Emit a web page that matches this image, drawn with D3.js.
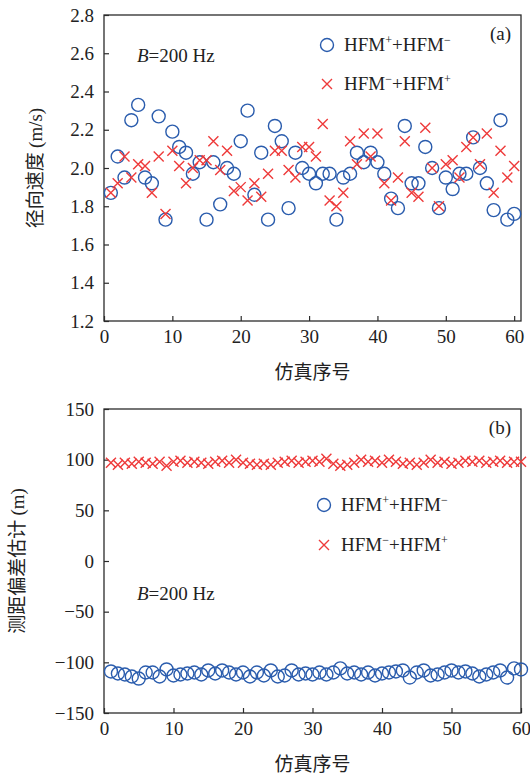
<!DOCTYPE html>
<html><head><meta charset="utf-8">
<script src="https://cdn.jsdelivr.net/npm/d3@7"></script>
<style>body{margin:0;background:#fff}</style>
</head><body><svg id="c" width="530" height="778"></svg>
<script>
const simIndex = [1,2,3,4,5,6,7,8,9,10,11,12,13,14,15,16,17,18,19,20,21,22,23,24,25,26,27,28,29,30,
  31,32,33,34,35,36,37,38,39,40,41,42,43,44,45,46,47,48,49,50,51,52,53,54,55,56,57,58,59,60];
// panel (a): radial velocity (m/s)
const velCircle = [1.87,2.06,1.95,2.25,2.33,1.95,1.92,2.27,1.73,2.19,2.11,2.08,1.97,2.03,1.73,2.03,1.81,2.00,1.97,2.14,
  2.30,1.86,2.08,1.73,2.22,2.14,1.79,2.08,2.00,1.97,1.92,1.97,1.97,1.73,1.95,1.97,2.08,2.03,2.08,2.03,
  1.97,1.84,1.79,2.22,1.92,1.92,2.11,2.00,1.79,1.95,1.89,1.97,1.97,2.16,2.00,1.92,1.78,2.25,1.73,1.76];
const velCross = [1.87,1.92,2.06,1.95,2.02,2.01,1.87,2.06,1.76,2.09,2.01,1.92,2.00,2.04,2.04,2.14,1.99,2.09,1.88,1.90,
  1.83,1.92,1.85,1.97,2.09,2.09,1.99,1.95,2.11,2.11,2.06,2.23,1.83,1.80,1.87,2.14,2.02,2.18,2.06,2.18,
  1.92,1.83,1.95,2.14,1.87,1.85,2.21,2.00,1.80,2.02,2.04,1.95,2.11,2.16,2.02,2.18,1.87,2.09,1.95,2.01];
// panel (b): ranging bias estimate (m)
const biasCircle = [-109,-111,-112,-114,-116,-110,-110,-114,-107,-113,-112,-111,-110,-112,-108,-111,-108,-110,-112,-110,
  -114,-110,-113,-108,-114,-113,-108,-112,-111,-112,-110,-112,-110,-106,-111,-110,-112,-110,-113,-111,
  -110,-109,-108,-115,-110,-108,-113,-112,-110,-108,-110,-109,-111,-114,-112,-110,-108,-115,-106,-107];
const biasCross = [97,95,97,96,98,97,96,98,94,98,99,97,98,97,96,98,99,97,100,97,
  96,95,96,95,97,98,99,97,98,99,98,101,96,94,95,97,100,98,99,97,
  100,98,96,97,95,97,100,97,98,96,97,99,98,99,97,98,99,97,98,98];
const xTicks = [0,10,20,30,40,50,60];
const velTicks = [1.2,1.4,1.6,1.8,2.0,2.2,2.4,2.6,2.8];
const biasTicks = [-150,-100,-50,0,50,100,150];

const BLUE = "#2a5cad", RED = "#ee3a3a", AX = "#2b2b2b";
const SERIF = "'Liberation Serif','Times New Roman',serif";
const CJK = "'Noto Sans CJK SC','Liberation Serif',serif";
const svg = d3.select("#c");

function panel(o){
  const g = svg.append("g");
  const x = d3.scaleLinear().domain(o.xDomain).range([o.left, o.right]);
  const y = d3.scaleLinear().domain(o.yDomain).range([o.bottom, o.top]);
  // frame
  g.append("rect").attr("x",o.left).attr("y",o.top).attr("width",o.right-o.left).attr("height",o.bottom-o.top)
    .attr("fill","none").attr("stroke",AX).attr("stroke-width",1.3);
  // y axis
  const ya = d3.axisLeft(y).tickValues(o.yTicks).tickSizeInner(-5).tickSizeOuter(0).tickPadding(10)
    .tickFormat(o.yFmt);
  const yg = g.append("g").attr("transform",`translate(${o.left},0)`).call(ya);
  yg.select(".domain").remove();
  yg.selectAll("line").attr("stroke",AX).attr("stroke-width",1.2);
  yg.selectAll("text").attr("font-family",SERIF).attr("font-size",19).attr("fill","#222");
  // x axis
  const xa = d3.axisBottom(x).tickValues(xTicks).tickSizeInner(-5).tickSizeOuter(0).tickPadding(9);
  const xg = g.append("g").attr("transform",`translate(0,${o.bottom})`).call(xa);
  xg.select(".domain").remove();
  xg.selectAll("line").attr("stroke",AX).attr("stroke-width",1.2);
  xg.selectAll("text").attr("font-family",SERIF).attr("font-size",19).attr("fill","#222");
  // data
  g.append("g").selectAll("circle").data(simIndex).join("circle")
    .attr("cx",(d)=>x(d)).attr("cy",(d,i)=>y(o.circ[i])).attr("r",6.5)
    .attr("fill","none").attr("stroke",BLUE).attr("stroke-width",1.4);
  const s = 5;
  g.append("g").selectAll("path").data(simIndex).join("path")
    .attr("d",(d,i)=>{const cx=x(d), cy=y(o.cross[i]);
      return `M${cx-s},${cy-s}L${cx+s},${cy+s}M${cx-s},${cy+s}L${cx+s},${cy-s}`;})
    .attr("fill","none").attr("stroke",RED).attr("stroke-width",1.4);
  // labels
  svg.append("text").attr("x",(o.left+o.right)/2).attr("y",o.bottom+58).attr("text-anchor","middle")
    .attr("font-family",CJK).attr("font-size",19).attr("fill","#222").text("仿真序号");
  const yl = svg.append("text").attr("transform",`translate(${o.ylx},${(o.top+o.bottom)/2}) rotate(-90)`)
    .attr("text-anchor","middle").attr("font-family",CJK).attr("font-size",19).attr("fill","#222");
  yl.append("tspan").text(o.yLabelCn);
  yl.append("tspan").attr("font-family",SERIF).text(o.yLabelUnit);
  // panel tag
  svg.append("text").attr("x",o.right-10).attr("y",o.top+25).attr("text-anchor","end")
    .attr("font-family",SERIF).attr("font-size",19).attr("fill","#222").text(o.tag);
  // bandwidth note
  const bt = svg.append("text").attr("x",o.bx).attr("y",o.by).attr("font-family",SERIF).attr("font-size",19).attr("fill","#222");
  bt.append("tspan").attr("font-style","italic").text("B");
  bt.append("tspan").text("=200 Hz");
  // legend
  function legText(t, a, b, c){
    const tt = svg.append("text").attr("x",o.lx+17).attr("y",t).attr("font-family",SERIF).attr("font-size",19).attr("fill","#222");
    tt.append("tspan").text("HFM");
    tt.append("tspan").attr("font-size",12).attr("dy",-7).text(a);
    tt.append("tspan").attr("dy",7).text("+HFM");
    tt.append("tspan").attr("font-size",12).attr("dy",-7).text(b);
  }
  svg.append("circle").attr("cx",o.lx).attr("cy",o.ly1).attr("r",6.5).attr("fill","none").attr("stroke",BLUE).attr("stroke-width",1.4);
  legText(o.ly1+6,"+","−");
  svg.append("path").attr("d",`M${o.lx-s},${o.ly2-s}L${o.lx+s},${o.ly2+s}M${o.lx-s},${o.ly2+s}L${o.lx+s},${o.ly2-s}`)
    .attr("fill","none").attr("stroke",RED).attr("stroke-width",1.4);
  legText(o.ly2+6,"−","+");
}

panel({left:104,right:521,top:15,bottom:321,xDomain:[0,61],yDomain:[1.2,2.8],yTicks:velTicks,
  yFmt:d3.format(".1f"),circ:velCircle,cross:velCross,ylx:42,yLabelCn:"径向速度 ",yLabelUnit:"(m/s)",
  tag:"(a)",bx:137,by:62,lx:327,ly1:45,ly2:84});
panel({left:104,right:521,top:409,bottom:713,xDomain:[0,60],yDomain:[-150,150],yTicks:biasTicks,
  yFmt:(d)=>d<0?"−"+Math.abs(d):String(d),circ:biasCircle,cross:biasCross,ylx:24,yLabelCn:"测距偏差估计 ",yLabelUnit:"(m)",
  tag:"(b)",bx:137,by:600,lx:324,ly1:505,ly2:545});
</script></body></html>
